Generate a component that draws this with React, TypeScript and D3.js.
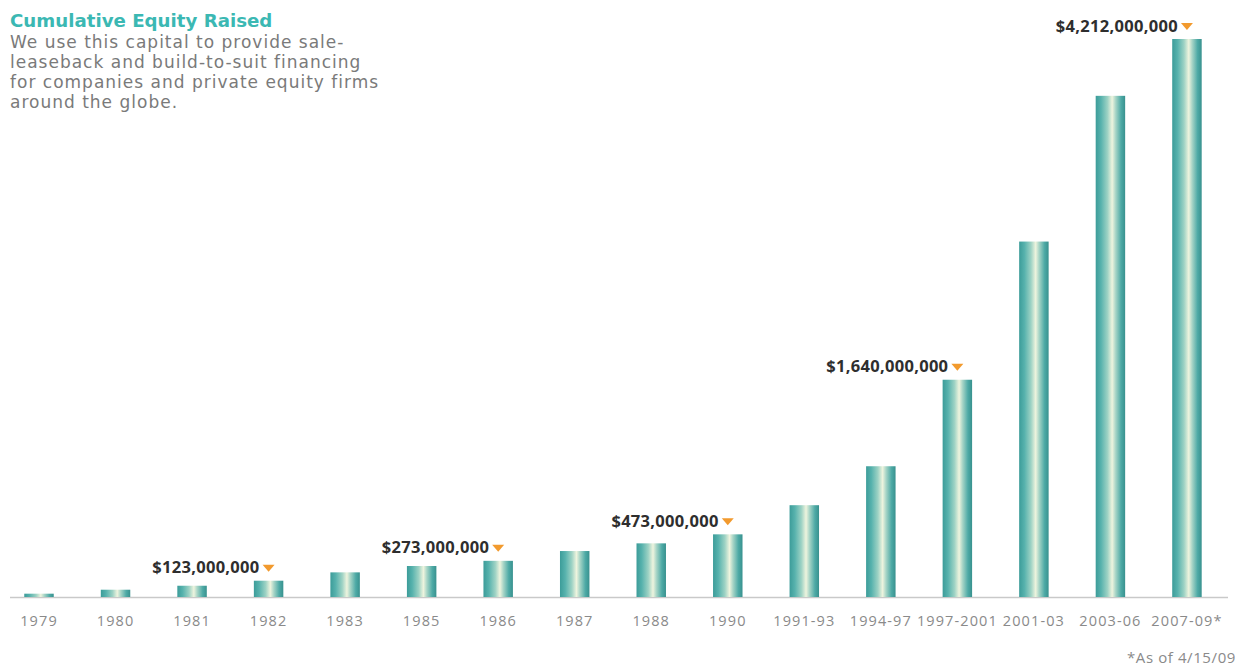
import React from "react";
import * as d3 from "d3";

const categories = ["1979","1980","1981","1982","1983","1985","1986","1987","1988","1990","1991-93","1994-97","1997-2001","2001-03","2003-06","2007-09*"];
const valuesMillions = [25,55,85,123,186,234,273,347,405,473,693,987,1640,2683,3783,4212];
const annotated = ["1982","1986","1990","1997-2001","2007-09*"];
const annotationLabels = ["$123,000,000","$273,000,000","$473,000,000","$1,640,000,000","$4,212,000,000"];
const titleText = "Cumulative Equity Raised";
const subtitleLines = ["We use this capital to provide sale-","leaseback and build-to-suit financing","for companies and private equity firms","around the globe."];
const footnote = "*As of 4/15/09";

const W = 1238, H = 668;

export default function App() {
  const step = 76.53;
  const x = d3.scaleBand<string>().domain(categories)
    .range([39 - step / 2, 39 - step / 2 + step * categories.length])
    .paddingInner(0.615).paddingOuter(0.3075);
  const y = d3.scaleLinear().domain([0, 4212]).range([597, 39]);
  const bw = x.bandwidth();

  return (
    <svg width={W} height={H} style={{ position: "absolute", left: 0, top: 0, background: "#fff" }}>
      <defs>
        <linearGradient id="barGrad" x1="0" x2="1" y1="0" y2="0">
          <stop offset="0%" stopColor="#3c9c99" />
          <stop offset="18%" stopColor="#57b2ad" />
          <stop offset="40%" stopColor="#9dd2c4" />
          <stop offset="56%" stopColor="#eef4de" />
          <stop offset="68%" stopColor="#a6d4c6" />
          <stop offset="86%" stopColor="#4eaaa6" />
          <stop offset="100%" stopColor="#38918e" />
        </linearGradient>
      </defs>
      <text x={10} y={27} fontFamily="DejaVu Sans" fontWeight="bold" fontSize={18.2} fill="#3bb8b3">{titleText}</text>
      {subtitleLines.map((l, i) => (
        <text key={i} x={10} y={48 + i * 20} fontFamily="DejaVu Sans" fontSize={17} letterSpacing={1} fill="#7a7a7a">{l}</text>
      ))}
      <line x1={10} x2={1228} y1={597.5} y2={597.5} stroke="#c9c9c9" strokeWidth={1.5} />
      {categories.map((c, i) => {
        const top = y(valuesMillions[i]);
        return (
          <rect key={c} x={x(c)} y={top} width={bw} height={597 - top} fill="url(#barGrad)" />
        );
      })}
      {categories.map((c) => (
        <text key={c} x={(x(c) as number) + bw / 2} y={626} textAnchor="middle" fontFamily="Open Sans" fontSize={14.5} letterSpacing={1.1} fill="#8a8a8a">{c}</text>
      ))}
      {annotated.map((c, i) => {
        const idx = categories.indexOf(c);
        const cx = (x(c) as number) + bw / 2;
        const top = y(valuesMillions[idx]);
        const ty = top - 13;
        return (
          <g key={c}>
            <text x={cx - 9} y={top - 7.5} textAnchor="end" fontFamily="Open Sans" fontWeight="bold" fontSize={16.5} letterSpacing={0.3} fill="#2e2e2e">{annotationLabels[i]}</text>
            <path d={`M${cx - 6},${ty - 3} L${cx + 6},${ty - 3} L${cx},${ty + 4} Z`} fill="#f29a2e" />
          </g>
        );
      })}
      <text x={1236} y={663} textAnchor="end" fontFamily="Open Sans" fontSize={15} letterSpacing={0.6} fill="#8a8a8a">{footnote}</text>
    </svg>
  );
}
